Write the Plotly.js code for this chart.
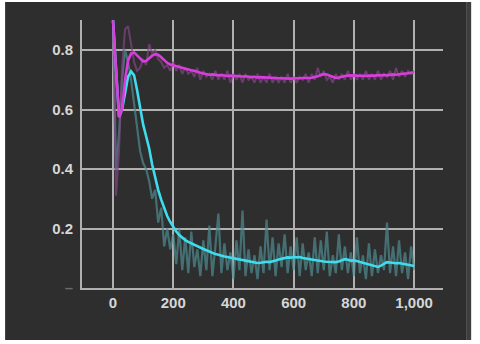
<!DOCTYPE html>
<html>
<head>
<meta charset="utf-8">
<script src="https://cdn.plot.ly/plotly-3.0.1.min.js"></script>
<style>
  html, body { margin: 0; padding: 0; background: #fff; }
  #graph { width: 480px; height: 344px; }
</style>
</head>
<body>
<div id="graph"></div>
<script>
'use strict';

var steps = [0, 10, 20, 30, 40, 50, 60, 70, 80, 90,
  100, 110, 120, 130, 140, 150, 160, 170, 180, 190,
  200, 210, 220, 230, 240, 250, 260, 270, 280, 290,
  300, 310, 320, 330, 340, 350, 360, 370, 380, 390,
  400, 410, 420, 430, 440, 450, 460, 470, 480, 490,
  500, 510, 520, 530, 540, 550, 560, 570, 580, 590,
  600, 610, 620, 630, 640, 650, 660, 670, 680, 690,
  700, 710, 720, 730, 740, 750, 760, 770, 780, 790,
  800, 810, 820, 830, 840, 850, 860, 870, 880, 890,
  900, 910, 920, 930, 940, 950, 960, 970, 980, 990, 1000];

// raw values (faint lines)
var rawCyan = [0.90, 0.40, 0.52, 0.70, 0.80, 0.76, 0.70, 0.62, 0.52, 0.46,
  0.42, 0.40, 0.36, 0.30, 0.33, 0.22, 0.27, 0.14, 0.20, 0.13,
  0.18, 0.08, 0.20, 0.06, 0.17, 0.05, 0.19, 0.07, 0.13, 0.04,
  0.16, 0.06, 0.21, 0.04, 0.14, 0.25, 0.05, 0.15, 0.06, 0.12,
  0.03, 0.16, 0.06, 0.26, 0.04, 0.13, 0.05, 0.11, 0.03, 0.14,
  0.05, 0.23, 0.06, 0.17, 0.04, 0.15, 0.07, 0.18, 0.05, 0.14,
  0.06, 0.17, 0.04, 0.15, 0.06, 0.12, 0.04, 0.17, 0.05, 0.16,
  0.06, 0.19, 0.04, 0.11, 0.05, 0.18, 0.06, 0.14, 0.05, 0.12,
  0.04, 0.17, 0.05, 0.11, 0.03, 0.15, 0.04, 0.13, 0.05, 0.11,
  0.06, 0.22, 0.05, 0.14, 0.04, 0.16, 0.05, 0.12, 0.03, 0.14, 0.06];

var rawMagenta = [0.90, 0.31, 0.46, 0.74, 0.87, 0.88, 0.82, 0.76, 0.73, 0.74,
  0.77, 0.75, 0.82, 0.79, 0.80, 0.77, 0.76, 0.74, 0.75, 0.73,
  0.76, 0.73, 0.75, 0.72, 0.74, 0.72, 0.73, 0.71, 0.74, 0.70,
  0.73, 0.71, 0.72, 0.70, 0.73, 0.70, 0.72, 0.70, 0.73, 0.69,
  0.72, 0.70, 0.72, 0.69, 0.72, 0.70, 0.71, 0.69, 0.72, 0.69,
  0.71, 0.69, 0.72, 0.69, 0.71, 0.69, 0.71, 0.69, 0.72, 0.69,
  0.71, 0.69, 0.71, 0.70, 0.72, 0.69, 0.72, 0.70, 0.74, 0.71,
  0.73, 0.70, 0.71, 0.69, 0.72, 0.70, 0.72, 0.70, 0.73, 0.70,
  0.72, 0.70, 0.72, 0.70, 0.73, 0.70, 0.72, 0.70, 0.73, 0.70,
  0.72, 0.71, 0.73, 0.70, 0.74, 0.71, 0.73, 0.71, 0.73, 0.72, 0.73];

// smoothed values (bright lines)
var smoothCyan = [0.90, 0.72, 0.575, 0.60, 0.66, 0.71, 0.728, 0.715, 0.665, 0.60,
  0.55, 0.51, 0.47, 0.415, 0.37, 0.33, 0.297, 0.266, 0.242, 0.222,
  0.204, 0.19, 0.178, 0.169, 0.161, 0.155, 0.150, 0.146, 0.139, 0.134,
  0.131, 0.127, 0.122, 0.119, 0.114, 0.112, 0.108, 0.106, 0.104, 0.101,
  0.100, 0.098, 0.097, 0.094, 0.092, 0.090, 0.088, 0.086, 0.084, 0.085,
  0.087, 0.088, 0.087, 0.089, 0.092, 0.096, 0.099, 0.101, 0.103, 0.102,
  0.104, 0.103, 0.104, 0.101, 0.099, 0.097, 0.095, 0.094, 0.093, 0.090,
  0.089, 0.088, 0.087, 0.088, 0.087, 0.089, 0.094, 0.097, 0.095, 0.092,
  0.093, 0.090, 0.087, 0.084, 0.082, 0.080, 0.077, 0.072, 0.071, 0.075,
  0.080, 0.087, 0.086, 0.084, 0.083, 0.084, 0.083, 0.080, 0.078, 0.076, 0.074];

var smoothMagenta = [0.90, 0.72, 0.575, 0.60, 0.70, 0.765, 0.788, 0.792, 0.782, 0.77,
  0.762, 0.763, 0.772, 0.781, 0.786, 0.784, 0.776, 0.766, 0.757, 0.751,
  0.748, 0.745, 0.742, 0.740, 0.737, 0.734, 0.732, 0.730, 0.728, 0.724,
  0.721, 0.719, 0.717, 0.718, 0.716, 0.715, 0.716, 0.714, 0.713, 0.714,
  0.713, 0.712, 0.712, 0.711, 0.712, 0.710, 0.709, 0.710, 0.708, 0.709,
  0.708, 0.707, 0.708, 0.706, 0.706, 0.705, 0.705, 0.704, 0.705, 0.704,
  0.705, 0.704, 0.705, 0.706, 0.705, 0.706, 0.707, 0.709, 0.712, 0.716,
  0.719, 0.718, 0.714, 0.708, 0.706, 0.708, 0.711, 0.713, 0.714, 0.715,
  0.715, 0.714, 0.713, 0.714, 0.713, 0.714, 0.713, 0.714, 0.715, 0.716,
  0.716, 0.715, 0.717, 0.718, 0.717, 0.719, 0.720, 0.721, 0.722, 0.723, 0.725];

var xTicks = [0, 200, 400, 600, 800, 1000];
var xTickText = ['0', '200', '400', '600', '800', '1,000'];
var yTicks = [0, 0.2, 0.4, 0.6, 0.8];
var yTickText = ['<span style="color:#6a6a6a">\u2013</span>', '0.2', '0.4', '0.6', '0.8'];

var gridCol = '#b0b0b0';

var traces = [
  {x: steps, y: rawCyan, type: 'scatter', mode: 'lines',
   line: {color: 'rgba(78,140,146,0.7)', width: 2.2}, hoverinfo: 'skip'},
  {x: steps, y: rawMagenta, type: 'scatter', mode: 'lines',
   line: {color: 'rgba(130,70,132,0.7)', width: 2}, hoverinfo: 'skip'},
  {x: steps, y: smoothCyan, type: 'scatter', mode: 'lines',
   line: {color: '#3fdcee', width: 2.6}},
  {x: steps, y: smoothMagenta, type: 'scatter', mode: 'lines',
   line: {color: '#d93ddc', width: 2.6}}
];

var layout = {
  width: 480,
  height: 344,
  margin: {l: 82, r: 37, t: 20, b: 56},
  paper_bgcolor: '#ffffff',
  plot_bgcolor: 'rgba(0,0,0,0)',
  showlegend: false,
  font: {family: 'Liberation Sans, Arial, sans-serif', size: 15, color: '#d6d6d6', weight: 'bold'},
  shapes: [
    // dark card behind the chart
    {type: 'rect', xref: 'paper', yref: 'paper', layer: 'below',
     x0: -0.213, x1: 1.064, y0: -0.194, y1: 1.067,
     fillcolor: '#2e2e2e', line: {width: 0}},
    {type: 'rect', xref: 'paper', yref: 'paper', layer: 'below',
     x0: 1.064, x1: 1.078, y0: -0.194, y1: 1.067,
     fillcolor: '#3e3e3e', line: {width: 0}}
  ],
  xaxis: {
    range: [-103, 1096],
    tickvals: xTicks,
    ticktext: xTickText,
    showgrid: true,
    gridcolor: gridCol,
    gridwidth: 2,
    zeroline: false,
    showline: true,
    linecolor: gridCol,
    linewidth: 2,
    ticks: '',
    tickfont: {size: 15, color: '#d6d6d6', weight: 'bold'}
  },
  yaxis: {
    range: [0, 0.901],
    tickvals: yTicks,
    ticktext: yTickText,
    showgrid: true,
    gridcolor: gridCol,
    gridwidth: 2,
    zeroline: false,
    showline: true,
    linecolor: gridCol,
    linewidth: 2,
    ticks: '',
    ticklabelstandoff: 4,
    tickfont: {size: 15, color: '#d6d6d6', weight: 'bold'}
  }
};

Plotly.newPlot('graph', traces, layout, {displayModeBar: false, staticPlot: true});
</script>
</body>
</html>
